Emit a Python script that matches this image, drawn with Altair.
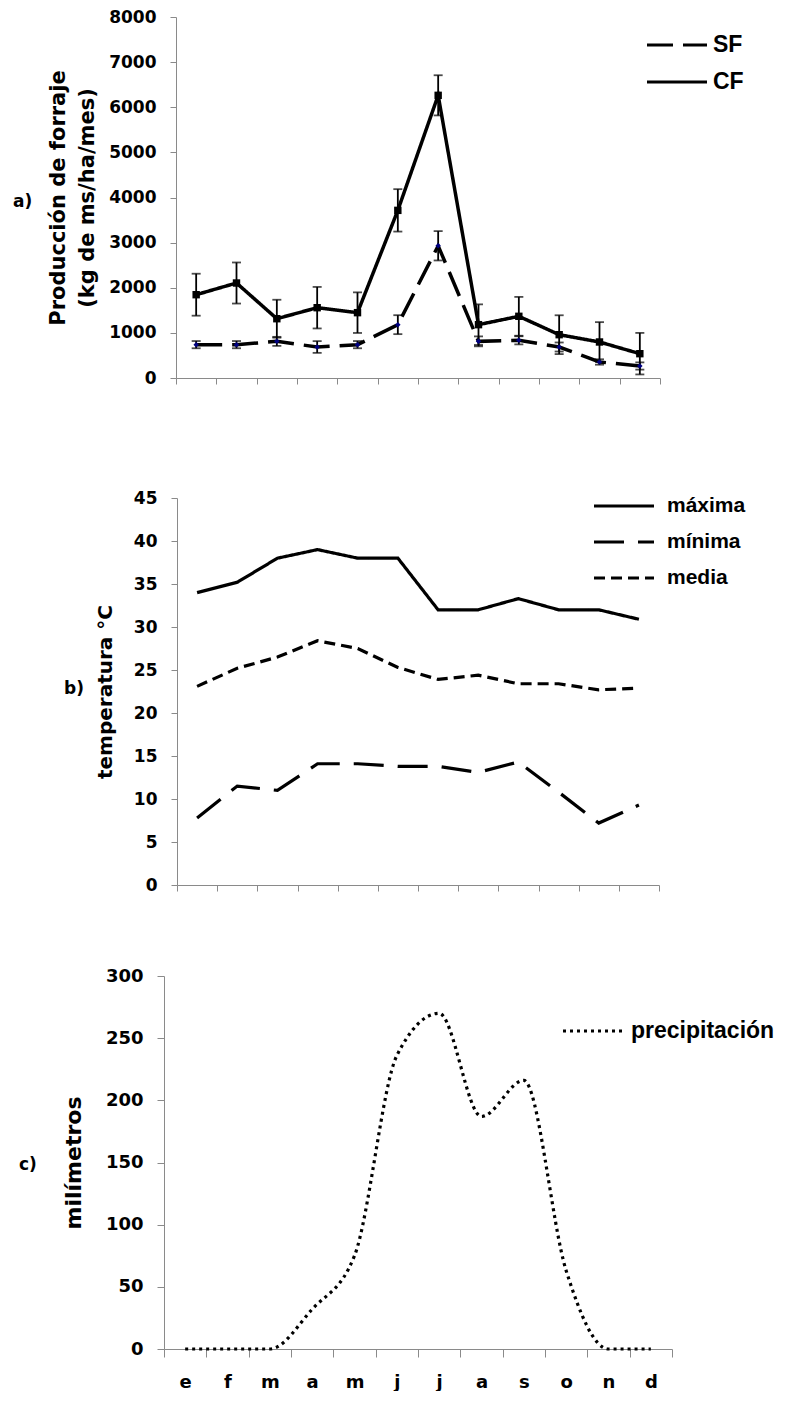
import json
import altair as alt
import pandas as pd

# ---------------- data ----------------
MESES = ["e", "f", "m", "a", "m", "j", "j", "a", "s", "o", "n", "d"]

SERIES_A = ["SF", "CF"]
SF = [739, 739, 812, 687, 739, 1182, 2930, 812, 835, 687, 355, 266]
SF_ERR = [80, 80, 100, 130, 80, 210, 325, 110, 90, 100, 60, 80]
CF = [1846, 2105, 1314, 1558, 1448, 3715, 6264, 1182, 1367, 960, 798, 539]
CF_ERR = [465, 455, 420, 460, 450, 470, 445, 450, 430, 430, 440, 460]

SERIES_B = ["máxima", "mínima", "media"]
T_MAX = [34.0, 35.2, 38.0, 39.0, 38.0, 38.0, 32.0, 32.0, 33.3, 32.0, 32.0, 30.9]
T_MIN = [7.8, 11.5, 11.0, 14.1, 14.1, 13.8, 13.8, 13.1, 14.3, 10.8, 7.2, 9.3]
T_MED = [23.1, 25.2, 26.5, 28.4, 27.5, 25.3, 23.9, 24.4, 23.4, 23.4, 22.7, 22.9]

SERIE_C = "precipitación"
PRECIP = [0, 0, 0, 32, 75, 236, 270, 187, 216, 63, 0, 0]

PANEL_LABELS = ["a)", "b)", "c)"]
TITLE_A = ["Producción de forraje", "(kg de ms/ha/mes)"]
TITLE_B = "temperatura °C"
TITLE_C = "milímetros"

# ---------------- styles ----------------
FONT_AX = "DejaVu Sans"
FONT_LEG = "Liberation Sans"
GRIS = "#8a8a8a"

idx = list(range(len(MESES)))


def x_enc(show_labels, tick=6):
    ax = dict(title=None, tickBand="extent", grid=False, domainColor=GRIS,
              tickColor=GRIS, tickSize=tick, tickWidth=1, domainWidth=1)
    if show_labels:
        ax.update(labels=True, labelExpr=f"{json.dumps(MESES)}[datum.value]",
                  labelFont=FONT_AX, labelFontWeight="bold", labelFontSize=18,
                  labelColor="black", labelAngle=0, labelPadding=16)
    else:
        ax.update(labels=False)
    return alt.X("mes:O", scale=alt.Scale(type="band", paddingInner=0, paddingOuter=0),
                 axis=alt.Axis(**ax))


def y_axis(title, values, label_size, title_size, title_pad, tick=6, line_h=None):
    ax = dict(title=title, values=values, format="d", grid=False, domainColor=GRIS,
              tickColor=GRIS, tickSize=tick, tickWidth=1, domainWidth=1, labelFont=FONT_AX,
              labelFontWeight="bold", labelFontSize=label_size, labelColor="black",
              labelPadding=14, titleFont=FONT_AX, titleFontWeight="bold",
              titleFontSize=title_size, titleColor="black", titlePadding=title_pad)
    if line_h:
        ax["titleLineHeight"] = line_h
    return alt.Axis(**ax)


def legend(x, y, offset, size=23, pad=13):
    return alt.Legend(title=None, orient="none", legendX=x, legendY=y, symbolType="stroke",
                      symbolSize=3600, symbolStrokeWidth=3, symbolStrokeColor="black",
                      clipHeight=24, labelFont=FONT_LEG, labelFontSize=size,
                      labelFontWeight="bold", labelColor="black", labelOffset=offset,
                      rowPadding=pad, padding=0)


def panel_label(text, x, y):
    return alt.Chart(pd.DataFrame({"t": [text]})).mark_text(
        font=FONT_AX, fontWeight="bold", fontSize=17, align="left", baseline="middle",
        color="black").encode(text="t:N", x=alt.value(x), y=alt.value(y))


# ---------------- panel a ----------------
rows_a = []
for i in idx:
    for s, vals, errs in (("SF", SF, SF_ERR), ("CF", CF, CF_ERR)):
        rows_a.append({"mes": i, "serie": s, "valor": vals[i],
                       "lo": vals[i] - errs[i], "hi": vals[i] + errs[i]})
df_a = pd.DataFrame(rows_a)
df_caps = pd.concat([
    df_a[["mes", "serie", "lo"]].rename(columns={"lo": "v"}),
    df_a[["mes", "serie", "hi"]].rename(columns={"hi": "v"}),
])

W_A, H_A = 484, 361
sc_a = alt.Scale(domain=[0, 8000], nice=False)
ax_a = y_axis(TITLE_A, list(range(0, 8001, 1000)), 17, 21, 11, line_h=29)
xa = x_enc(False)

err_a = alt.Chart(df_a).mark_rule(color="black", strokeWidth=1.8).encode(
    x=xa, y=alt.Y("lo:Q", scale=sc_a, axis=ax_a), y2="hi:Q")
caps_a = alt.Chart(df_caps).mark_tick(color="black", thickness=1.8, size=9).encode(
    x=xa, y=alt.Y("v:Q", scale=sc_a, axis=ax_a))
line_a = alt.Chart(df_a).mark_line(color="black", strokeWidth=3.5).encode(
    x=xa, y=alt.Y("valor:Q", scale=sc_a, axis=ax_a),
    strokeDash=alt.StrokeDash("serie:N", sort=SERIES_A,
                              scale=alt.Scale(domain=SERIES_A, range=[[26, 10], [1, 0]]),
                              legend=legend(469.5, 16, 4.5)))
pts_cf = alt.Chart(df_a).transform_filter(alt.datum.serie == "CF").mark_point(
    shape="square", filled=True, size=55, color="black", opacity=1).encode(
    x=xa, y=alt.Y("valor:Q", scale=sc_a, axis=ax_a))
pts_sf = alt.Chart(df_a).transform_filter(alt.datum.serie == "SF").mark_point(
    shape="diamond", filled=True, size=30, color="#000080", opacity=1).encode(
    x=xa, y=alt.Y("valor:Q", scale=sc_a, axis=ax_a))

panel_a = alt.layer(err_a, caps_a, line_a, pts_cf, pts_sf,
                    panel_label(PANEL_LABELS[0], -163, 185)).properties(width=W_A, height=H_A)

# ---------------- panel b ----------------
rows_b = []
for s, vals in zip(SERIES_B, (T_MAX, T_MIN, T_MED)):
    for i in idx:
        rows_b.append({"mes": i, "serie": s, "valor": vals[i]})
df_b = pd.DataFrame(rows_b)

W_B, H_B, OFF_B = 482, 416, 29
sc_b = alt.Scale(domain=[0, 45], nice=False, range=[H_B, OFF_B])
line_b = alt.Chart(df_b).mark_line(color="black", strokeWidth=3.2).encode(
    x=x_enc(False),
    y=alt.Y("valor:Q", scale=sc_b, axis=y_axis(TITLE_B, list(range(0, 46, 5)), 17, 20, 18)),
    strokeDash=alt.StrokeDash("serie:N", sort=SERIES_B,
                              scale=alt.Scale(domain=SERIES_B,
                                              range=[[1, 0], [30, 14], [11, 6]]),
                              legend=legend(415.5, 25, 11.5, size=21, pad=12)),
    detail="serie:N")
panel_b = alt.layer(line_b, panel_label(PANEL_LABELS[1], -113, 220)).properties(
    width=W_B, height=H_B)

# ---------------- panel c ----------------
df_c = pd.DataFrame({"mes": idx, "serie": [SERIE_C] * len(idx), "valor": PRECIP})
W_C, H_C = 508, 373
sc_c = alt.Scale(domain=[0, 300], nice=False)
line_c = alt.Chart(df_c).mark_line(color="black", strokeWidth=3.2, interpolate="monotone").encode(
    x=x_enc(True, tick=8),
    y=alt.Y("valor:Q", scale=sc_c, axis=y_axis(TITLE_C, list(range(0, 301, 50)), 18, 22, 20, tick=7)),
    strokeDash=alt.StrokeDash("serie:N",
                              scale=alt.Scale(domain=[SERIE_C], range=[[3, 4]]),
                              legend=legend(397.5, 43, 6.5, size=23)))
panel_c = alt.layer(line_c, panel_label(PANEL_LABELS[2], -145, 189)).properties(
    width=W_C, height=H_C)

chart = alt.vconcat(panel_a, panel_b, panel_c, spacing=91, bounds="flush", center=True).resolve_scale(
    strokeDash="independent").resolve_legend(strokeDash="independent").properties(
    padding={"left": 5, "top": 0, "right": 0, "bottom": 0}, background="white"
).configure_view(stroke=None, strokeWidth=0)

chart.save("out.html", embed_options={"renderer": "svg", "actions": False})
